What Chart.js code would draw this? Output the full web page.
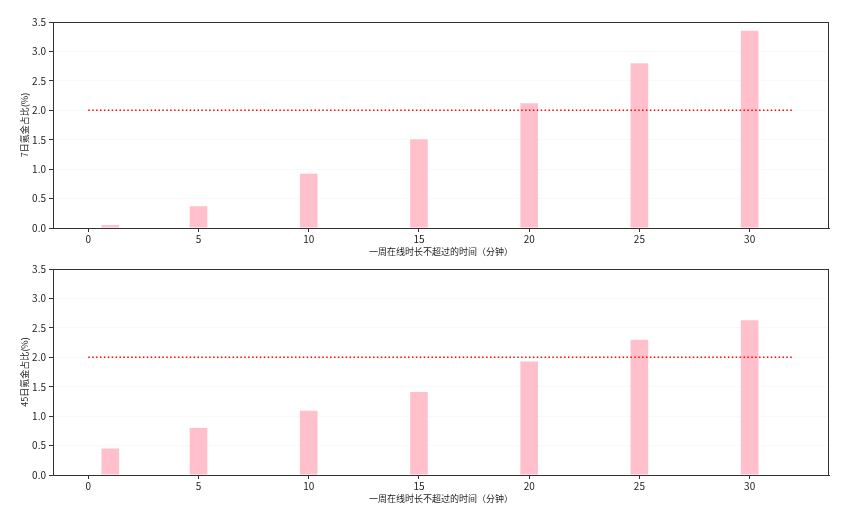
<!DOCTYPE html>
<html>
<head>
<meta charset="utf-8">
<script src="https://cdn.jsdelivr.net/npm/chart.js@4.4.1/dist/chart.umd.min.js"></script>
<style>
  html, body { margin: 0; padding: 0; background: #ffffff; }
  #wrap { position: relative; width: 850px; height: 509px; overflow: hidden; }
  .box { position: absolute; left: 0; width: 850px; height: 260px; }
</style>
</head>
<body>
<div id="wrap">
  <div class="box" style="top:0px"><canvas id="c1"></canvas></div>
  <div class="box" style="top:247px"><canvas id="c2"></canvas></div>
</div>
<script>
// ---- data ----
const minutes = [1, 5, 10, 15, 20, 25, 30];
const share7 = [0.05, 0.37, 0.92, 1.51, 2.12, 2.80, 3.35];
const share45 = [0.45, 0.80, 1.09, 1.41, 1.93, 2.30, 2.63];
const thresholdX = [0, 32];
const thresholdY = [2, 2];
const xTicks = [0, 5, 10, 15, 20, 25, 30];
const yTicks = [0, 0.5, 1.0, 1.5, 2.0, 2.5, 3.0, 3.5];
const xLabel = '一周在线时长不超过的时间（分钟）';
const yLabel7 = '7日氪金占比(%)';
const yLabel45 = '45日氪金占比(%)';

const FONT = '"Noto Sans CJK SC", "DejaVu Sans", sans-serif';
const AXIS = '#333333';

const frame = {
  id: 'frame',
  afterDraw(chart) {
    const a = chart.chartArea, c = chart.ctx;
    c.save();
    c.strokeStyle = AXIS;
    c.lineWidth = 1;
    c.strokeRect(Math.round(a.left) + 0.5, Math.round(a.top) + 0.5,
                 Math.round(a.right - a.left) - 1, Math.round(a.bottom - a.top));
    c.restore();
  }
};

function makeChart(id, values, yLabel) {
  new Chart(document.getElementById(id), {
    data: {
      datasets: [
        {
          type: 'bar',
          data: minutes.map((m, i) => ({ x: m, y: values[i] })),
          backgroundColor: 'pink',
          borderWidth: 0,
          categoryPercentage: 1.0,
          barPercentage: 0.2,
          order: 2
        },
        {
          type: 'line',
          data: thresholdX.map((x, i) => ({ x: x, y: thresholdY[i] })),
          borderColor: 'red',
          borderWidth: 1.5,
          borderDash: [1.5, 2.4],
          pointRadius: 0,
          fill: false,
          order: 1
        }
      ]
    },
    options: {
      responsive: true,
      maintainAspectRatio: false,
      animation: false,
      events: [],
      layout: { padding: { top: 22, right: 21, left: 0, bottom: 0 } },
      plugins: { legend: { display: false }, tooltip: { enabled: false } },
      scales: {
        x: {
          type: 'linear',
          min: -1.6,
          max: 33.6,
          offset: false,
          afterBuildTicks: s => { s.ticks = xTicks.map(v => ({ value: v })); },
          afterFit: s => { s.height = 32; },
          grid: { display: true, offset: false, drawOnChartArea: false, drawTicks: true, tickLength: 4, tickColor: AXIS },
          border: { display: true, color: AXIS },
          ticks: { color: '#222', font: { family: FONT, size: 10 }, padding: 1, maxRotation: 0 },
          title: { display: true, text: xLabel, color: '#222', font: { family: FONT, size: 9 }, padding: { top: 0, bottom: 3 } }
        },
        y: {
          type: 'linear',
          min: 0,
          max: 3.5,
          afterBuildTicks: s => { s.ticks = yTicks.map(v => ({ value: v })); },
          afterFit: s => { s.width = 53; },
          grid: { display: true, drawOnChartArea: true, color: 'rgba(0,0,0,0.025)', drawTicks: true, tickLength: 4, tickColor: AXIS },
          border: { display: true, color: AXIS },
          ticks: { color: '#222', font: { family: FONT, size: 10 }, padding: 3, callback: v => Number(v).toFixed(1) },
          title: { display: true, text: yLabel, color: '#222', font: { family: FONT, size: 9 }, padding: { top: 19.5, bottom: 0 } }
        }
      }
    },
    plugins: [frame]
  });
}

makeChart('c1', share7, yLabel7);
makeChart('c2', share45, yLabel45);
</script>
</body>
</html>
